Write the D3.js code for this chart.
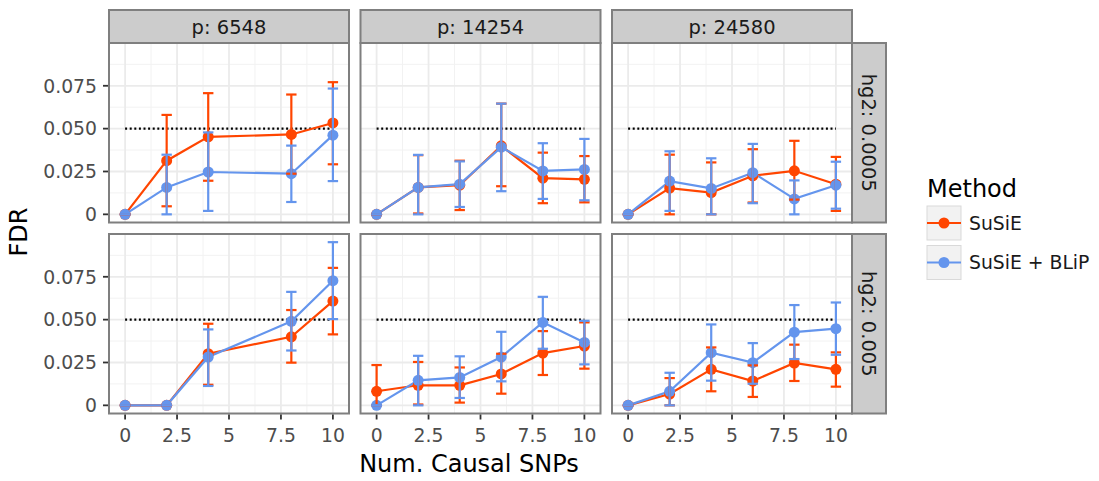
<!DOCTYPE html>
<html>
<head>
<meta charset="utf-8">
<script src="https://cdn.jsdelivr.net/npm/d3@7"></script>
<style>
body { margin: 0; background: #fff; }
svg { display: block; font-family: 'DejaVu Sans', sans-serif; }
</style>
</head>
<body>
<div id="content"></div>
<script>
const causal = [0, 2, 4, 6, 8, 10];
const pLabels = ['p: 6548', 'p: 14254', 'p: 24580'];
const hg2Labels = ['hg2: 0.0005', 'hg2: 0.005'];
const methods = ['SuSiE', 'SuSiE + BLiP'];
const colors = ['#FF4500', '#6495ED'];
const xTicks = [0, 2.5, 5, 7.5, 10];
const yTicks = [0, 0.025, 0.05, 0.075];
const yTickLabels = ['0', '0.025', '0.050', '0.075'];
const target = 0.05;

// [hg2 row][p column][num causal]
const susieFdr = [
  [[0, 0.0313, 0.0452, null, 0.0466, 0.0533],
   [0, 0.0157, 0.0170, 0.0400, 0.0211, 0.0204],
   [0, 0.0153, 0.0127, 0.0225, 0.0254, 0.0176]],
  [[0, 0, 0.0301, null, 0.0400, 0.0608],
   [0.0082, 0.0117, 0.0117, 0.0183, 0.0305, 0.0346],
   [0, 0.0066, 0.0210, 0.0142, 0.0247, 0.0210]]
];
const susieLow = [
  [[0, 0.0047, 0.0196, null, 0.0237, 0.0292],
   [0, 0.0005, 0.0025, 0.0164, 0.0065, 0.0070],
   [0, 0, 0, 0.0069, 0.0086, 0.0020]],
  [[0, 0, 0.0120, null, 0.0249, 0.0414],
   [0, 0.0005, 0.0016, 0.0068, 0.0177, 0.0214],
   [0, 0, 0.0082, 0.0049, 0.0142, 0.0109]]
];
const susieHigh = [
  [[0, 0.0580, 0.0707, null, 0.0699, 0.0771],
   [0, 0.0345, 0.0313, 0.0646, 0.0360, 0.0340],
   [0, 0.0348, 0.0303, 0.0380, 0.0429, 0.0335]],
  [[0, 0, 0.0476, null, 0.0556, 0.0802],
   [0.0235, 0.0253, 0.0221, 0.0301, 0.0433, 0.0484],
   [0, 0.0159, 0.0338, 0.0233, 0.0354, 0.0309]]
];
const blipFdr = [
  [[0, 0.0157, 0.0247, null, 0.0237, 0.0462],
   [0, 0.0157, 0.0176, 0.0392, 0.0253, 0.0262],
   [0, 0.0194, 0.0151, 0.0243, 0.0090, 0.0170]],
  [[0, 0, 0.0282, null, 0.0490, 0.0727],
   [0, 0.0146, 0.0163, 0.0282, 0.0484, 0.0367],
   [0, 0.0082, 0.0307, 0.0249, 0.0427, 0.0447]]
];
const blipLow = [
  [[0, 0, 0.0020, null, 0.0072, 0.0194],
   [0, 0, 0.0043, 0.0135, 0.0090, 0.0082],
   [0, 0.0020, 0, 0.0065, 0, 0.0033]],
  [[0, 0, 0.0113, null, 0.0320, 0.0503],
   [0, 0, 0.0043, 0.0140, 0.0330, 0.0239],
   [0, 0, 0.0144, 0.0126, 0.0270, 0.0295]]
];
const blipHigh = [
  [[0, 0.0348, 0.0478, null, 0.0401, 0.0734],
   [0, 0.0347, 0.0309, 0.0646, 0.0415, 0.0440],
   [0, 0.0368, 0.0327, 0.0411, 0.0198, 0.0307]],
  [[0, 0, 0.0443, null, 0.0662, 0.0952],
   [0, 0.0289, 0.0286, 0.0429, 0.0633, 0.0493],
   [0, 0.0190, 0.0472, 0.0363, 0.0585, 0.0600]]
];

var width = 1099;
var height = 481;
var gridLeft = 109, gridTop = 10;
var panelW = 240, panelH = 179.5, gap = 11.5;
var stripH = 33, stripW = 34;
var capW = 0.5;

const fdrSets = [susieFdr, blipFdr];
const lowSets = [susieLow, blipLow];
const highSets = [susieHigh, blipHigh];

function series(m, r, c){
    return causal.map((x, i) => ({
        x: x,
        y: fdrSets[m][r][c][i],
        lo: lowSets[m][r][c][i],
        hi: highSets[m][r][c][i]
    })).filter(d => d.y !== null);
}

const xMin = -capW / 2, xMax = d3.max(causal) + capW / 2;
const xPad = (xMax - xMin) * 0.05;
const x = d3.scaleLinear()
            .domain([xMin - xPad, xMax + xPad])
            .range([0, panelW]);

const yMax = d3.max(highSets.flat(3));
const y = d3.scaleLinear()
            .domain([-yMax * 0.05, yMax * 1.05])
            .range([panelH, 0]);

const svg = d3.select('#content')
              .append('svg')
              .attr('width', width)
              .attr('height', height);

const minorX = xTicks.slice(1).map((t, i) => (t + xTicks[i]) / 2);
const minorY = yTicks.slice(1).map((t, i) => (t + yTicks[i]) / 2).concat([yTicks[yTicks.length - 1] + 0.0125]);

hg2Labels.forEach((hg2, r) => {
    pLabels.forEach((p, c) => {
        const px = gridLeft + c * (panelW + gap);
        const py = gridTop + stripH + r * (panelH + gap);
        const g = svg.append('g').attr('transform', 'translate(' + px + ',' + py + ')');

        g.append('rect').attr('width', panelW).attr('height', panelH).attr('fill', '#fff');

        g.selectAll('.minor-x').data(minorX).enter().append('line')
         .attr('x1', d => x(d)).attr('x2', d => x(d)).attr('y1', 0).attr('y2', panelH)
         .attr('stroke', '#f2f2f2').attr('stroke-width', 1);
        g.selectAll('.minor-y').data(minorY).enter().append('line')
         .attr('y1', d => y(d)).attr('y2', d => y(d)).attr('x1', 0).attr('x2', panelW)
         .attr('stroke', '#f2f2f2').attr('stroke-width', 1);
        g.selectAll('.major-x').data(xTicks).enter().append('line')
         .attr('x1', d => x(d)).attr('x2', d => x(d)).attr('y1', 0).attr('y2', panelH)
         .attr('stroke', '#ebebeb').attr('stroke-width', 1.8);
        g.selectAll('.major-y').data(yTicks).enter().append('line')
         .attr('y1', d => y(d)).attr('y2', d => y(d)).attr('x1', 0).attr('x2', panelW)
         .attr('stroke', '#ebebeb').attr('stroke-width', 1.8);

        g.append('line')
         .attr('x1', x(d3.min(causal))).attr('x2', x(d3.max(causal)))
         .attr('y1', y(target)).attr('y2', y(target))
         .attr('stroke', '#000').attr('stroke-width', 2.2)
         .attr('stroke-dasharray', '2,2.6');

        const data = methods.map((m, i) => series(i, r, c));

        const line = d3.line().x(d => x(d.x)).y(d => y(d.y));
        data.forEach((s, i) => {
            g.append('path').datum(s)
             .attr('d', line)
             .attr('fill', 'none')
             .attr('stroke', colors[i])
             .attr('stroke-width', 2.2);
        });
        data.forEach((s, i) => {
            g.selectAll('.pt' + i).data(s).enter().append('circle')
             .attr('cx', d => x(d.x)).attr('cy', d => y(d.y)).attr('r', 5.5)
             .attr('fill', colors[i]);
        });
        data.forEach((s, i) => {
            const eb = g.selectAll('.eb' + i).data(s).enter().append('g')
                        .attr('stroke', colors[i]).attr('stroke-width', 2.2);
            eb.append('line')
              .attr('x1', d => x(d.x)).attr('x2', d => x(d.x))
              .attr('y1', d => y(d.lo)).attr('y2', d => y(d.hi));
            eb.append('line')
              .attr('x1', d => x(d.x - capW / 2)).attr('x2', d => x(d.x + capW / 2))
              .attr('y1', d => y(d.lo)).attr('y2', d => y(d.lo));
            eb.append('line')
              .attr('x1', d => x(d.x - capW / 2)).attr('x2', d => x(d.x + capW / 2))
              .attr('y1', d => y(d.hi)).attr('y2', d => y(d.hi));
        });

        g.append('rect').attr('width', panelW).attr('height', panelH)
         .attr('fill', 'none').attr('stroke', '#7f7f7f').attr('stroke-width', 2);

        if (c === 0) {
            const ya = g.append('g');
            ya.selectAll('line').data(yTicks).enter().append('line')
              .attr('x1', -6).attr('x2', -1).attr('y1', d => y(d)).attr('y2', d => y(d))
              .attr('stroke', '#333').attr('stroke-width', 1.8);
            ya.selectAll('text').data(yTicks).enter().append('text')
              .attr('x', -12).attr('y', d => y(d)).attr('dy', '0.36em')
              .attr('text-anchor', 'end').attr('font-size', 18.8).attr('fill', '#4d4d4d')
              .text((d, i) => yTickLabels[i]);
        }
        if (r === hg2Labels.length - 1) {
            const xa = g.append('g');
            xa.selectAll('line').data(xTicks).enter().append('line')
              .attr('x1', d => x(d)).attr('x2', d => x(d)).attr('y1', panelH + 1).attr('y2', panelH + 6)
              .attr('stroke', '#333').attr('stroke-width', 1.8);
            xa.selectAll('text').data(xTicks).enter().append('text')
              .attr('x', d => x(d)).attr('y', panelH + 28)
              .attr('text-anchor', 'middle').attr('font-size', 18.8).attr('fill', '#4d4d4d')
              .text(d => d);
        }
        if (r === 0) {
            g.append('rect').attr('x', 0).attr('y', -stripH).attr('width', panelW).attr('height', stripH)
             .attr('fill', '#cccccc').attr('stroke', '#7f7f7f').attr('stroke-width', 2);
            g.append('text').attr('x', panelW / 2).attr('y', -stripH / 2).attr('dy', '0.36em')
             .attr('text-anchor', 'middle').attr('font-size', 19.5).attr('fill', '#1a1a1a')
             .text(p);
        }
        if (c === pLabels.length - 1) {
            g.append('rect').attr('x', panelW).attr('y', 0).attr('width', stripW).attr('height', panelH)
             .attr('fill', '#cccccc').attr('stroke', '#7f7f7f').attr('stroke-width', 2);
            g.append('text')
             .attr('transform', 'translate(' + (panelW + stripW / 2) + ',' + (panelH / 2) + ') rotate(90)')
             .attr('dy', '0.36em')
             .attr('text-anchor', 'middle').attr('font-size', 19.5).attr('fill', '#1a1a1a')
             .text(hg2);
        }
    });
});

svg.append('text')
   .attr('x', 469).attr('y', 472)
   .attr('text-anchor', 'middle').attr('font-size', 24)
   .text('Num. Causal SNPs');

svg.append('text')
   .attr('transform', 'translate(27,' + 232 + ') rotate(-90)')
   .attr('text-anchor', 'middle').attr('font-size', 24)
   .text('FDR');

const legend = svg.append('g')
                  .attr('id', 'legend')
                  .attr('transform', 'translate(927,197)');

legend.append('text').attr('x', 0).attr('y', 0).attr('font-size', 24).text('Method');

const keys = legend.selectAll('.key').data(methods).enter().append('g')
                   .attr('transform', (d, i) => 'translate(0,' + (9 + i * 39.5) + ')');
keys.append('rect').attr('width', 34).attr('height', 34)
    .attr('fill', '#f2f2f2').attr('stroke', '#d9d9d9').attr('stroke-width', 1);
keys.append('line').attr('x1', 0).attr('x2', 34).attr('y1', 17).attr('y2', 17)
    .attr('stroke', (d, i) => colors[i]).attr('stroke-width', 2.2);
keys.append('circle').attr('cx', 17).attr('cy', 17).attr('r', 5.5)
    .attr('fill', (d, i) => colors[i]);
keys.append('text').attr('x', 42).attr('y', 17).attr('dy', '0.36em')
    .attr('font-size', 18.8).attr('fill', '#1a1a1a')
    .text(d => d);
</script>
</body>
</html>
